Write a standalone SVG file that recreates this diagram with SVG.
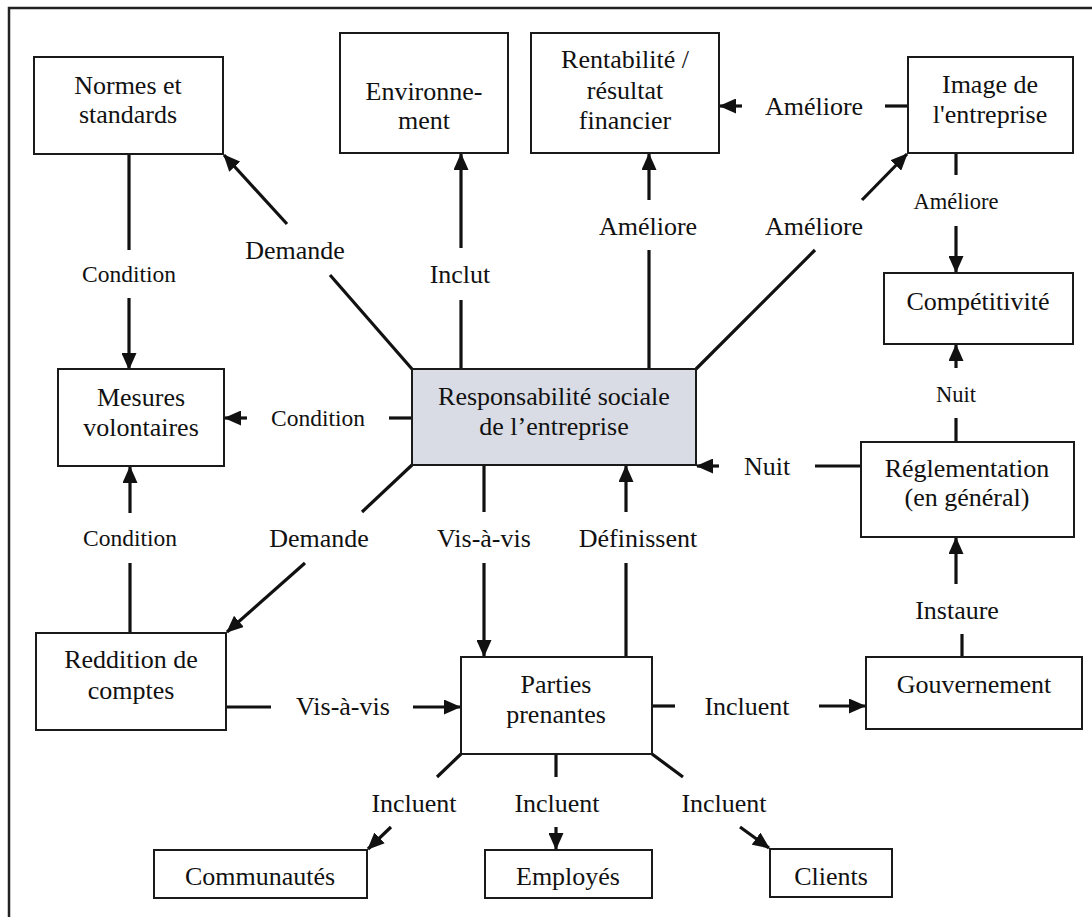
<svg xmlns="http://www.w3.org/2000/svg" width="1092" height="917" viewBox="0 0 1092 917">
  <style>
    .box { fill: #ffffff; stroke: #1a1a1a; stroke-width: 2; }
    .core { fill: #d9dce4; stroke: #1a1a1a; stroke-width: 2; }
    .t { font-family: 'Liberation Serif', 'DejaVu Serif', serif; font-size: 26px; fill: #111; text-anchor: middle; }
    .s { font-size: 23.5px; }
    .xs { font-size: 22.5px; }
    .ln { stroke: #111; stroke-width: 3.2; fill: none; }
    .ar { stroke: #111; stroke-width: 3.2; fill: none; marker-end: url(#head); }
    .frame { stroke: #222; stroke-width: 2.5; fill: none; }
  </style>
  <defs>
    <marker id="head" viewBox="0 0 17 15" refX="16" refY="7.5" markerWidth="17" markerHeight="15" markerUnits="userSpaceOnUse" orient="auto">
      <path d="M0,0 L17,7.5 L0,15 z" fill="#111"/>
    </marker>
  </defs>
  <rect width="1092" height="917" fill="#ffffff"/>

  <!-- open frame: top and left edges -->
  <path class="frame" d="M9,917 L9,8 L1092,8"/>

  <!-- connectors -->
  <g id="connectors">
    <!-- Normes -> Mesures -->
    <line class="ln" x1="129" y1="154" x2="129" y2="250"/>
    <text class="t s" x="129" y="282">Condition</text>
    <line class="ar" x1="129" y1="298" x2="129" y2="369"/>
    <!-- RSE -> Normes -->
    <line class="ln" x1="412" y1="369" x2="330" y2="275"/>
    <text class="t" x="295" y="259">Demande</text>
    <line class="ar" x1="287" y1="224" x2="224" y2="155"/>
    <!-- RSE -> Environnement -->
    <line class="ln" x1="461" y1="369" x2="461" y2="300"/>
    <text class="t" x="460" y="283">Inclut</text>
    <line class="ar" x1="461" y1="248" x2="461" y2="154"/>
    <!-- RSE -> Rentabilité -->
    <line class="ln" x1="649" y1="369" x2="649" y2="250"/>
    <text class="t" x="648" y="235">Améliore</text>
    <line class="ar" x1="649" y1="200" x2="649" y2="154"/>
    <!-- RSE -> Image -->
    <line class="ln" x1="696" y1="369" x2="815" y2="250"/>
    <text class="t" x="814" y="235">Améliore</text>
    <line class="ar" x1="862" y1="200" x2="907" y2="154"/>
    <!-- Image -> Rentabilité -->
    <line class="ln" x1="908" y1="106" x2="885" y2="106"/>
    <text class="t" x="814" y="115">Améliore</text>
    <line class="ar" x1="742" y1="106" x2="720" y2="106"/>
    <!-- Image -> Compétitivité -->
    <line class="ln" x1="956" y1="153" x2="956" y2="175"/>
    <text class="t xs" x="956" y="209">Améliore</text>
    <line class="ar" x1="956" y1="226" x2="956" y2="272"/>
    <!-- Réglementation -> Compétitivité -->
    <line class="ln" x1="956" y1="442" x2="956" y2="418"/>
    <text class="t xs" x="956" y="402">Nuit</text>
    <line class="ar" x1="956" y1="368" x2="956" y2="345"/>
    <!-- Réglementation -> RSE -->
    <line class="ln" x1="861" y1="466" x2="815" y2="466"/>
    <text class="t" x="767" y="475">Nuit</text>
    <line class="ar" x1="719" y1="466" x2="697" y2="466"/>
    <!-- RSE -> Mesures -->
    <line class="ln" x1="412" y1="418" x2="389" y2="418"/>
    <text class="t s" x="318" y="426">Condition</text>
    <line class="ar" x1="247" y1="418" x2="225" y2="418"/>
    <!-- Reddition -> Mesures -->
    <line class="ln" x1="130" y1="633" x2="130" y2="563"/>
    <text class="t s" x="130" y="546">Condition</text>
    <line class="ar" x1="130" y1="513" x2="130" y2="467"/>
    <!-- RSE -> Reddition -->
    <line class="ln" x1="412" y1="465" x2="362" y2="512"/>
    <text class="t" x="319" y="547">Demande</text>
    <line class="ar" x1="305" y1="563" x2="227" y2="632"/>
    <!-- RSE -> Parties prenantes -->
    <line class="ln" x1="484" y1="465" x2="484" y2="512"/>
    <text class="t" x="484" y="547">Vis-à-vis</text>
    <line class="ar" x1="484" y1="563" x2="484" y2="656"/>
    <!-- Parties prenantes -> RSE -->
    <line class="ln" x1="626" y1="657" x2="626" y2="563"/>
    <text class="t" x="638" y="547">Définissent</text>
    <line class="ar" x1="626" y1="512" x2="626" y2="466"/>
    <!-- Reddition -> Parties prenantes -->
    <line class="ln" x1="226" y1="707" x2="271" y2="707"/>
    <text class="t" x="343" y="715">Vis-à-vis</text>
    <line class="ar" x1="413" y1="707" x2="460" y2="707"/>
    <!-- Parties prenantes -> Gouvernement -->
    <line class="ln" x1="652" y1="706" x2="675" y2="706"/>
    <text class="t" x="747" y="715">Incluent</text>
    <line class="ar" x1="819" y1="706" x2="865" y2="706"/>
    <!-- Gouvernement -> Réglementation -->
    <line class="ln" x1="962" y1="657" x2="962" y2="634"/>
    <text class="t" x="957" y="619">Instaure</text>
    <line class="ar" x1="956" y1="584" x2="956" y2="538"/>
    <!-- Parties prenantes -> Communautés -->
    <line class="ln" x1="461" y1="754" x2="437" y2="777"/>
    <text class="t" x="414" y="812">Incluent</text>
    <line class="ar" x1="391" y1="827" x2="368" y2="849"/>
    <!-- Parties prenantes -> Employés -->
    <line class="ln" x1="556" y1="754" x2="556" y2="777"/>
    <text class="t" x="557" y="812">Incluent</text>
    <line class="ar" x1="556" y1="827" x2="556" y2="849"/>
    <!-- Parties prenantes -> Clients -->
    <line class="ln" x1="652" y1="754" x2="683" y2="777"/>
    <text class="t" x="724" y="812">Incluent</text>
    <line class="ar" x1="740" y1="827" x2="769" y2="848"/>
  </g>

  <!-- nodes -->
  <g id="normes">
    <rect class="box" x="34" y="57" width="189" height="97"/>
    <text class="t" x="128" y="94">Normes et</text>
    <text class="t" x="128" y="123">standards</text>
  </g>
  <g id="environnement">
    <rect class="box" x="340" y="33" width="168" height="120"/>
    <text class="t" x="424" y="100">Environne-</text>
    <text class="t" x="424" y="129">ment</text>
  </g>
  <g id="rentabilite">
    <rect class="box" x="531" y="33" width="188" height="120"/>
    <text class="t" x="625" y="68">Rentabilité /</text>
    <text class="t" x="625" y="99">résultat</text>
    <text class="t" x="625" y="129">financier</text>
  </g>
  <g id="image">
    <rect class="box" x="908" y="57" width="165" height="96"/>
    <text class="t" x="990" y="93">Image de</text>
    <text class="t" x="990" y="123">l'entreprise</text>
  </g>
  <g id="competitivite">
    <rect class="box" x="884" y="273" width="189" height="71"/>
    <text class="t" x="978" y="310">Compétitivité</text>
  </g>
  <g id="rse">
    <rect class="core" x="412" y="369" width="284" height="96"/>
    <text class="t" x="554" y="405">Responsabilité sociale</text>
    <text class="t" x="554" y="435">de l’entreprise</text>
  </g>
  <g id="mesures">
    <rect class="box" x="58" y="369" width="166" height="97"/>
    <text class="t" x="141" y="406">Mesures</text>
    <text class="t" x="141" y="436">volontaires</text>
  </g>
  <g id="reglementation">
    <rect class="box" x="861" y="442" width="213" height="95"/>
    <text class="t" x="967" y="477">Réglementation</text>
    <text class="t" x="967" y="506">(en général)</text>
  </g>
  <g id="reddition">
    <rect class="box" x="36" y="633" width="190" height="97"/>
    <text class="t" x="131" y="668">Reddition de</text>
    <text class="t" x="131" y="699">comptes</text>
  </g>
  <g id="parties">
    <rect class="box" x="461" y="657" width="191" height="97"/>
    <text class="t" x="556" y="693">Parties</text>
    <text class="t" x="556" y="723">prenantes</text>
  </g>
  <g id="gouvernement">
    <rect class="box" x="866" y="657" width="216" height="72"/>
    <text class="t" x="974" y="693">Gouvernement</text>
  </g>
  <g id="communautes">
    <rect class="box" x="154" y="850" width="213" height="48"/>
    <text class="t" x="260" y="885">Communautés</text>
  </g>
  <g id="employes">
    <rect class="box" x="485" y="850" width="167" height="48"/>
    <text class="t" x="568" y="885">Employés</text>
  </g>
  <g id="clients">
    <rect class="box" x="770" y="849" width="122" height="48"/>
    <text class="t" x="831" y="885">Clients</text>
  </g>
</svg>
